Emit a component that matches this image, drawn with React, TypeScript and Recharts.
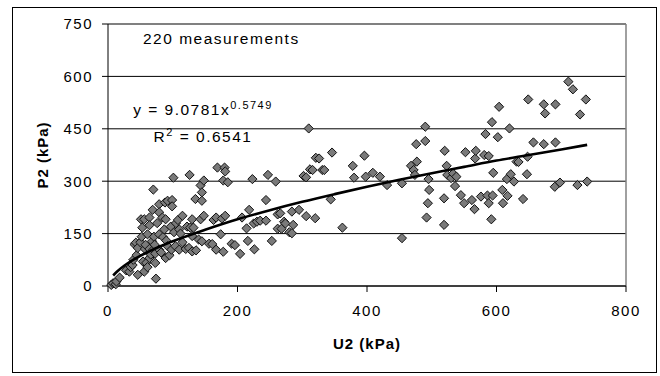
import { ScatterChart, Scatter, XAxis, YAxis, CartesianGrid, ReferenceLine } from 'recharts'

// axis ticks
const xTicks = [0, 200, 400, 600, 800]
const yTicks = [0, 150, 300, 450, 600, 750]

const lowRange: [number, number][] = [
  [5, 3], [8, 8], [12, 5], [13, 13], [18, 24], [28, 45], [33, 41], [35, 54], [38, 60], [39, 75],
  [41, 119], [43, 124], [44, 88], [46, 109], [46, 32], [50, 125], [51, 191], [52, 141], [53, 167], [54, 70],
  [56, 191], [56, 41], [57, 106], [58, 118], [59, 66], [61, 54], [61, 148], [64, 196], [64, 174], [64, 106],
  [64, 80], [66, 90], [68, 128], [69, 218], [70, 276], [70, 104], [71, 141], [72, 118], [73, 93], [73, 66],
  [74, 21], [76, 180], [79, 234], [79, 211], [79, 148], [79, 104], [82, 96], [84, 196], [85, 140], [87, 162],
  [88, 239], [89, 191], [89, 80], [90, 130], [92, 244], [92, 114], [95, 88], [97, 170], [98, 104], [99, 246],
  [99, 228], [101, 310], [102, 154], [104, 114], [105, 180], [108, 189], [110, 162], [110, 104], [112, 150], [115, 201],
  [115, 125], [120, 106], [122, 170], [125, 109], [126, 318], [127, 167], [130, 191], [130, 143], [130, 99], [132, 167],
  [135, 249], [136, 102], [140, 133], [143, 288], [143, 191], [145, 268], [145, 244], [145, 128], [148, 302], [148, 201],
]

const midRange: [number, number][] = [
  [156, 121], [161, 120], [163, 189], [167, 196], [167, 104], [169, 339], [174, 148], [176, 193], [178, 302], [178, 98],
  [180, 339], [181, 328], [181, 201], [185, 297], [191, 121], [196, 117], [204, 92], [207, 196], [214, 165], [216, 129],
  [218, 218], [223, 306], [225, 179], [226, 105], [230, 184], [235, 187], [244, 187], [244, 246], [247, 318], [253, 129],
  [259, 299], [262, 164], [262, 205], [266, 208], [268, 164], [272, 184], [274, 179], [280, 154], [284, 213], [284, 151],
  [286, 175], [295, 218], [302, 315], [306, 311], [306, 200], [310, 451], [312, 334], [316, 332], [320, 194], [321, 367],
  [326, 365], [331, 332],
]

const upperRange: [number, number][] = [
  [334, 332], [344, 248], [346, 382], [362, 167], [378, 344], [380, 310], [396, 373], [398, 313], [409, 324], [420, 313],
  [431, 289], [454, 294], [454, 137], [468, 344], [472, 332], [474, 318], [476, 406], [477, 356],
]

const highRange: [number, number][] = [
  [490, 456], [490, 415], [492, 196], [494, 237], [495, 306], [496, 275], [519, 251], [519, 175], [520, 387], [523, 344],
  [524, 318], [530, 309], [533, 322], [536, 286], [538, 313], [545, 260], [550, 237], [552, 383], [562, 246], [566, 220],
  [567, 365], [568, 387], [576, 256], [581, 375], [583, 435], [586, 259], [588, 372], [588, 237], [592, 191], [593, 469],
  [594, 259], [595, 324], [602, 426], [604, 513], [609, 275], [610, 237], [616, 306], [617, 258], [620, 451], [622, 320],
  [627, 299], [631, 356], [634, 355], [641, 249], [647, 320], [648, 370], [649, 534], [657, 411], [673, 406], [673, 520],
  [675, 494], [690, 284], [691, 411], [691, 520], [698, 296], [711, 585], [718, 563], [725, 289], [729, 491], [738, 534],
  [740, 299],
]

// power trend line
const trendLine: [number, number][] = [
  [8, 30], [15, 43], [25, 58], [40, 76], [60, 96], [80, 113], [100, 128], [150, 161], [200, 191], [250, 217],
  [300, 241], [350, 263], [400, 284], [450, 304], [500, 323], [550, 341], [600, 359], [650, 375], [700, 391], [740, 404],
]

const toPoints = (pairs: [number, number][]) => pairs.map(([u2, p2]) => ({ u2, p2 }))

const measurements = toPoints([...lowRange, ...midRange, ...upperRange, ...highRange])
const trend = toPoints(trendLine)

const FONT = '"Liberation Sans", Arial, sans-serif'
const tickStyle = { fill: '#000', fontSize: 15, fontFamily: FONT, letterSpacing: 1.5 }

function Diamond(props: any) {
  const { cx, cy } = props
  if (cx == null || cy == null) return <g />
  const r = 4.6
  return (
    <polygon
      points={`${cx},${cy - r} ${cx + r},${cy} ${cx},${cy + r} ${cx - r},${cy}`}
      fill="#7a7a7a"
      stroke="#111"
      strokeWidth={1}
    />
  )
}

export default function App() {
  return (
    <div
      style={{
        position: 'fixed',
        left: 0,
        top: 0,
        width: 660,
        height: 376,
        background: '#fff',
        overflow: 'hidden',
      }}
    >
      <div
        style={{
          position: 'absolute',
          left: 12,
          top: 7,
          width: 643,
          height: 364,
          border: '1px solid #000',
        }}
      />
      <ScatterChart width={660} height={376} margin={{ top: 24, right: 34, bottom: 30, left: 0 }}>
        <CartesianGrid stroke="#000" vertical={false} />
        <XAxis
          type="number"
          dataKey="u2"
          domain={[0, 800]}
          ticks={xTicks}
          interval={0}
          height={60}
          axisLine={{ stroke: '#000' }}
          tickLine={{ stroke: '#000' }}
          tickSize={6}
          tickMargin={13}
          tick={tickStyle}
        />
        <YAxis
          type="number"
          dataKey="p2"
          domain={[0, 750]}
          ticks={yTicks}
          interval={0}
          width={108}
          axisLine={{ stroke: '#000' }}
          tickLine={{ stroke: '#000' }}
          tickSize={6}
          tickMargin={9}
          tick={tickStyle}
        />
        <ReferenceLine y={750} stroke="#808080" strokeWidth={1.5} />
        <ReferenceLine x={800} stroke="#808080" strokeWidth={1.5} />
        <Scatter data={measurements} shape={<Diamond />} isAnimationActive={false} />
        <Scatter
          data={trend}
          line={{ stroke: '#000', strokeWidth: 2.6 }}
          lineJointType="monotoneX"
          shape={() => <g />}
          isAnimationActive={false}
        />
      </ScatterChart>
      <svg
        width={660}
        height={376}
        style={{ position: 'absolute', left: 0, top: 0, pointerEvents: 'none' }}
        fontFamily={FONT}
        letterSpacing={1.5}
      >
        <text x={143} y={44} fontSize={15.5} fill="#000">
          220 measurements
        </text>
        <text x={203} y={115} fontSize={15.5} fill="#000" textAnchor="middle">
          y = 9.0781x
          <tspan fontSize={11} dy={-6}>
            0.5749
          </tspan>
        </text>
        <text x={203} y={142} fontSize={15.5} fill="#000" textAnchor="middle">
          R
          <tspan fontSize={11} dy={-6}>
            2
          </tspan>
          <tspan dy={6}> = 0.6541</tspan>
        </text>
        <text x={367} y={349} fontSize={15} fontWeight="bold" fill="#000" textAnchor="middle" letterSpacing={1}>
          U2 (kPa)
        </text>
        <text
          x={0}
          y={0}
          fontSize={15}
          fontWeight="bold"
          fill="#000"
          textAnchor="middle"
          letterSpacing={1}
          transform="translate(48,155) rotate(-90)"
        >
          P2 (kPa)
        </text>
      </svg>
    </div>
  )
}
